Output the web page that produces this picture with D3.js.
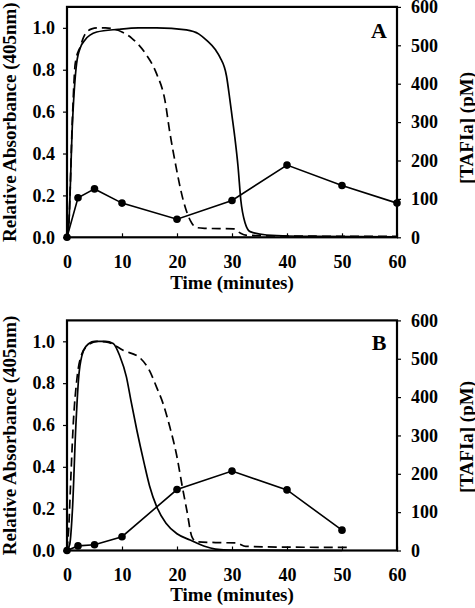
<!DOCTYPE html>
<html>
<head>
<meta charset="utf-8">
<script src="https://cdn.jsdelivr.net/npm/d3@7"></script>
<style>
  html, body { margin: 0; padding: 0; background: #fff; }
  svg { display: block; }
  text { font-family: "Liberation Serif", "Times New Roman", serif; font-weight: bold; fill: #000; }
</style>
</head>
<body>
<svg id="chart" width="475" height="608"></svg>
<script>
// ---------- DATA ----------
const xTicks = [0, 10, 20, 30, 40, 50, 60];
const leftTicks = [0, 0.2, 0.4, 0.6, 0.8, 1.0];
const rightTicks = [0, 100, 200, 300, 400, 500, 600];

// Panel A
const aSolidTime = [0, 0.3, 1, 1.75, 2.5, 3.2, 5.4, 9.3, 13, 16.3, 21.7, 24, 25.4, 27, 27.8, 29, 29.6, 30, 30.5, 31.1, 31.6, 32.4, 33.3, 36.3, 45, 60];
const aSolidAbs  = [0, 0.05, 0.55, 0.83, 0.91, 0.94, 0.98, 0.993, 1.0, 1.0, 0.99, 0.97, 0.94, 0.895, 0.86, 0.77, 0.66, 0.58, 0.48, 0.337, 0.178, 0.067, 0.027, 0.011, 0.004, 0.002];
const aDashTime  = [0, 0.3, 1, 1.5, 2.4, 3.3, 4.5, 5.7, 7, 8.4, 10, 11.8, 14.2, 16.3, 17.8, 18.7, 19.8, 21.1, 22.7, 23.5, 25, 30.3, 31.5, 32.5, 40, 60];
const aDashAbs   = [0, 0.05, 0.58, 0.83, 0.91, 0.97, 0.995, 1.0, 1.0, 0.995, 0.98, 0.95, 0.88, 0.78, 0.655, 0.50, 0.34, 0.18, 0.067, 0.047, 0.043, 0.04, 0.02, 0.01, 0.006, 0.004];
const aTafiTime  = [0, 2, 5, 10, 20, 30, 40, 50, 60];
const aTafiPM    = [0, 103, 126, 89, 47, 96, 188, 135, 89];

// Panel B
const bSolidTime = [0, 0.5, 1, 1.6, 2.2, 3, 4, 5, 7, 8.4, 9.6, 10.8, 11.6, 12.7, 14, 15, 16.3, 18, 20, 22.4, 25, 27, 30, 50];
const bSolidAbs  = [0, 0.03, 0.2, 0.59, 0.85, 0.955, 0.99, 1.0, 1.0, 0.99, 0.93, 0.83, 0.72, 0.575, 0.42, 0.31, 0.21, 0.13, 0.08, 0.05, 0.02, 0.007, 0.002, 0.0];
const bDashTime  = [0, 0.3, 0.7, 1.15, 1.8, 2.7, 4, 5.5, 7.5, 10.2, 13.3, 15, 16.3, 17.5, 18.7, 19.9, 21, 21.8, 22.7, 23.5, 27, 30.8, 32.5, 40, 51.5];
const bDashAbs   = [0, 0.1, 0.35, 0.61, 0.82, 0.94, 0.985, 1.0, 0.995, 0.957, 0.92, 0.86, 0.78, 0.70, 0.59, 0.46, 0.30, 0.19, 0.066, 0.042, 0.038, 0.036, 0.02, 0.016, 0.015];
const bTafiTime  = [0, 2, 5, 10, 20, 30, 40, 50];
const bTafiPM    = [0, 12, 15, 36, 159, 207, 158, 53];

const panels = [
  { label: "A", top: 6.9, bottom: 237.3, sT: aSolidTime, sV: aSolidAbs, dT: aDashTime, dV: aDashAbs, pT: aTafiTime, pV: aTafiPM,
    xTitleY: 289, rightTitleY: 128, letterY: 38 },
  { label: "B", top: 320.4, bottom: 550.5, sT: bSolidTime, sV: bSolidAbs, dT: bDashTime, dV: bDashAbs, pT: bTafiTime, pV: bTafiPM,
    xTitleY: 601, rightTitleY: 437, letterY: 350 }
];

const svg = d3.select("#chart");
const left = 67, right = 397;
const x = d3.scaleLinear().domain([0, 60]).range([left, right]);

panels.forEach(p => {
  const y = d3.scaleLinear().domain([0, 1.1]).range([p.bottom, p.top]);
  const y2 = d3.scaleLinear().domain([0, 600 * 1.1 / 1.1]).range([p.bottom, p.top]);
  const g = svg.append("g");

  // axes
  const gl = g.append("g").attr("transform", `translate(${left},0)`)
    .call(d3.axisLeft(y).tickValues(leftTicks).tickFormat(d3.format(".1f")).tickSize(4).tickPadding(8));
  const gr = g.append("g").attr("transform", `translate(${right},0)`)
    .call(d3.axisRight(y2).tickValues(rightTicks).tickFormat(d3.format("d")).tickSize(4).tickPadding(10));
  const gb = g.append("g").attr("transform", `translate(0,${p.bottom})`)
    .call(d3.axisBottom(x).tickValues(xTicks).tickSize(-4).tickPadding(18));
  [gl, gr, gb].forEach(a => {
    a.select(".domain").remove();
    a.selectAll("line").attr("stroke", "#000").attr("stroke-width", 1.2);
    a.selectAll("text").style("font-family", '"Liberation Serif", serif').style("font-weight", "bold").style("font-size", "18px");
  });

  // frame
  g.append("rect").attr("x", left).attr("y", p.top).attr("width", right - left).attr("height", p.bottom - p.top)
    .attr("fill", "none").attr("stroke", "#000").attr("stroke-width", 2.2);

  const line = d3.line().x(d => x(d[0])).y(d => y(d[1])).curve(d3.curveMonotoneX);
  // solid absorbance
  g.append("path").datum(p.sT.map((t, i) => [t, p.sV[i]])).attr("d", line)
    .attr("fill", "none").attr("stroke", "#000").attr("stroke-width", 1.7);
  // dashed absorbance
  g.append("path").datum(p.dT.map((t, i) => [t, p.dV[i]])).attr("d", line)
    .attr("fill", "none").attr("stroke", "#000").attr("stroke-width", 1.7).attr("stroke-dasharray", "9,5");

  // TAFIa
  const pts = p.pT.map((t, i) => [t, p.pV[i]]);
  const line2 = d3.line().x(d => x(d[0])).y(d => y2(d[1]));
  g.append("path").datum(pts).attr("d", line2).attr("fill", "none").attr("stroke", "#000").attr("stroke-width", 1.6);
  g.selectAll("circle.pt").data(pts).enter().append("circle").attr("class", "pt")
    .attr("cx", d => x(d[0])).attr("cy", d => y2(d[1])).attr("r", 3.8).attr("fill", "#000");

  // titles
  g.append("text").attr("x", (left + right) / 2).attr("y", p.xTitleY).attr("text-anchor", "middle")
    .style("font-size", "19px").text("Time (minutes)");
  g.append("text").attr("transform", `translate(9,${(p.top + p.bottom) / 2}) rotate(-90)`)
    .attr("text-anchor", "middle").attr("dominant-baseline", "central")
    .style("font-size", "19px").text("Relative Absorbance (405nm)");
  g.append("text").attr("transform", `translate(466,${p.rightTitleY}) rotate(-90)`)
    .attr("text-anchor", "middle").attr("dominant-baseline", "central")
    .style("font-size", "19px").text("[TAFIa] (pM)");
  g.append("text").attr("x", 379).attr("y", p.letterY).attr("text-anchor", "middle")
    .style("font-size", "22px").text(p.label);
});
</script>
</body>
</html>
